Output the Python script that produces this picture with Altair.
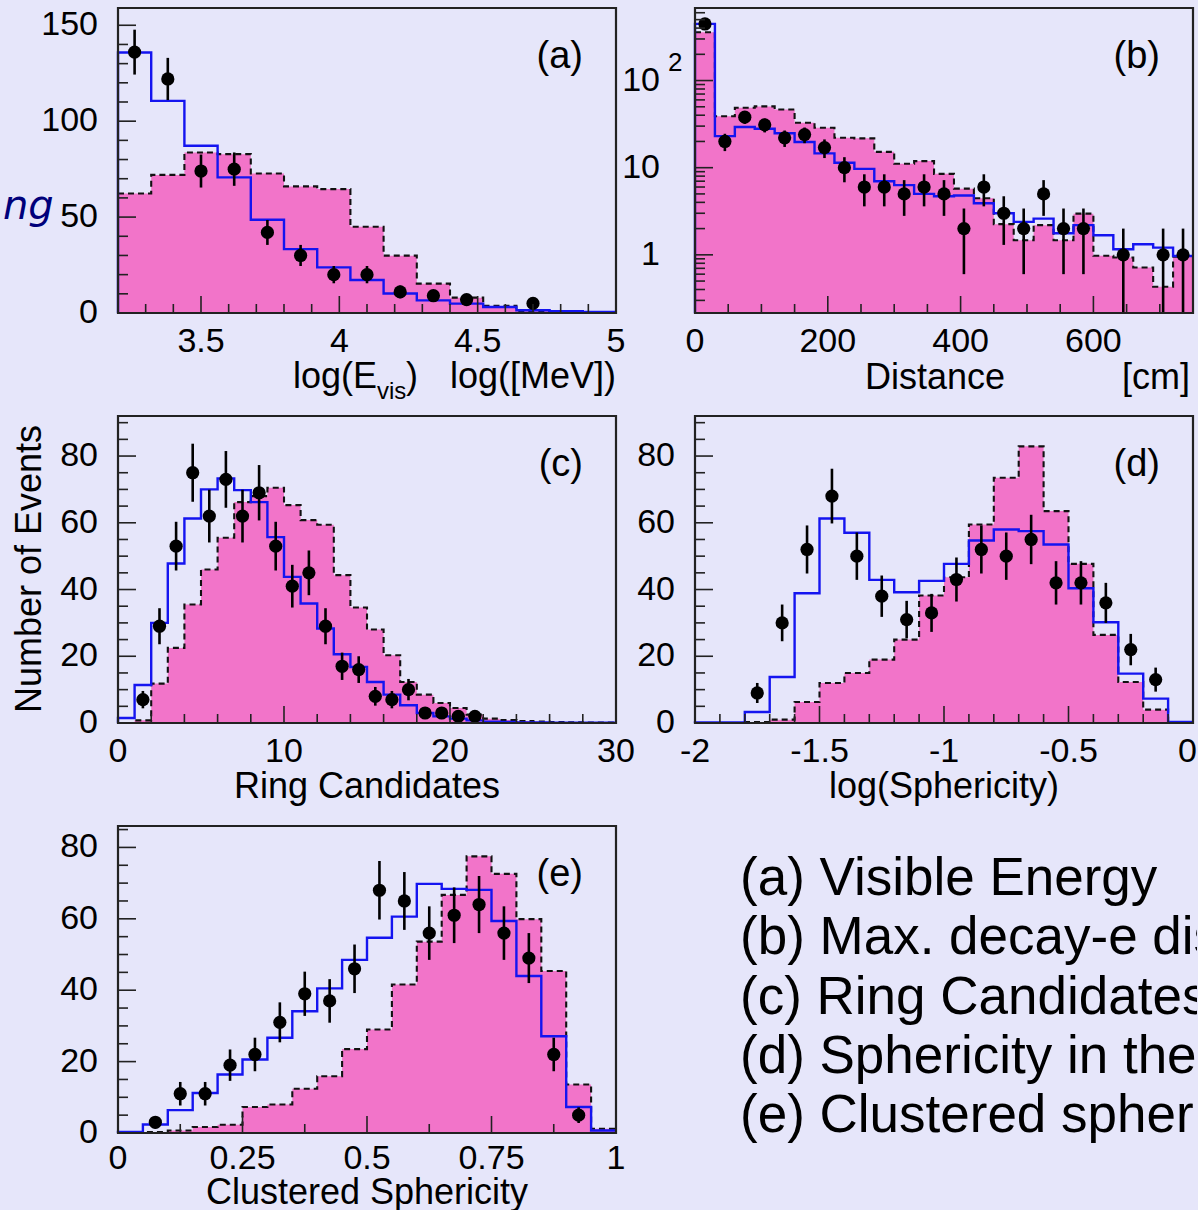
import altair as alt
import pandas as pd

# ---------------- data ----------------
# (a) Visible energy, 15 bins of 0.12 from 3.2
A_LO, A_BW = 3.2, 0.12
A_PINK = [62.3, 72.0, 83.7, 82.8, 72.7, 66.0, 64.6, 45.0, 29.9, 15.3, 8.0, 3.7, 1.0, 0.2, 0.1]
A_BLUE = [135.8, 110.6, 87.2, 70.7, 48.6, 33.3, 23.8, 17.2, 10.2, 6.6, 4.9, 3.1, 1.4, 0.9, 0.5]
A_DBIN = [0, 1, 2, 3, 4, 5, 6, 7, 8, 9, 10, 12]
A_DATA = [136, 122, 74, 75, 42, 30, 20, 20, 11, 9, 7, 5]
A_ERR = [11.7, 11.0, 8.6, 8.7, 6.5, 5.5, 4.5, 4.5, 3.3, 3.0, 2.6, 2.2]
A_XTICKS = [3.5, 4, 4.5, 5]
A_XLABELS = ["3.5", "4", "4.5", "5"]
A_YTICKS = [0, 50, 100, 150]
A_YLABELS = ["0", "50", "100", "150"]

# (b) Max decay-e distance, 25 bins of 30 cm
B_LO, B_BW = 0, 30
B_PINK = [358, 39, 48.7, 50.5, 46.6, 32.8, 28.7, 22.1, 21.7, 15.2, 11.1, 11.9, 8.5,
          5.75, 4.46, 2.25, 1.47, 2.19, 1.47, 2.97, 0.975, 0.93, 0.716, 0.43, 0.95]
B_BLUE = [447, 23, 29.3, 28, 24.8, 19.7, 14.6, 11.4, 9.7, 7.0, 6.3, 5.0, 4.7,
          4.8, 3.9, 3.0, 2.39, 2.6, 1.77, 2.19, 1.68, 1.16, 1.32, 1.21, 0.97]
B_DBIN = [0, 1, 2, 3, 4, 5, 6, 7, 8, 9, 10, 11, 12, 13, 14, 15, 16, 17, 18, 19, 21, 23, 24]
B_DATA = [446, 20, 38, 31, 22, 24, 17, 10, 6, 6, 5, 6, 5, 2, 6, 3, 2, 5, 2, 2, 1, 1, 1]
B_ERR = [21.1, 4.5, 6.2, 5.6, 4.7, 4.9, 4.1, 3.2, 2.4, 2.4, 2.2, 2.4, 2.2, 1.4, 2.4,
         1.7, 1.4, 2.2, 1.4, 1.4, 1.0, 1.0, 1.0]
B_XTICKS = [0, 200, 400, 600]
B_XLABELS = ["0", "200", "400", "600"]
B_YTICKS = [1, 10, 100]
B_YLABELS = ["1", "10", "10"]
B_YSUPER = ["", "", "2"]

# (c) Ring candidates, 30 bins of 1
C_LO, C_BW = 0, 1
C_PINK = [0, 0.8, 11.8, 22.5, 35.5, 46, 55.5, 66.2, 68, 70.5, 65.3, 60.8, 59.4, 44.3, 34.6,
          28, 20.3, 12.3, 8.5, 6.0, 4.5, 2.5, 1.3, 0.9, 0.6, 0.4, 0.3, 0.2, 0.1, 0.1]
C_BLUE = [1.5, 11.4, 30, 47.8, 61.3, 70, 73.3, 69.8, 66.2, 55.7, 43.8, 35.8, 28.3, 20.6, 16.8,
          12.3, 8.5, 5.3, 3.0, 2.0, 1.3, 0.8, 0.4, 0.3, 0.2, 0.2, 0.1, 0.1, 0.1, 0.1]
C_DBIN = list(range(1, 22))
C_DATA = [7, 29, 53, 75, 62, 73, 62, 69, 53, 41, 45, 29, 17, 16, 8, 7, 10, 3, 3, 2, 2]
C_ERR = [2.6, 5.4, 7.3, 8.7, 7.9, 8.5, 7.9, 8.3, 7.3, 6.4, 6.7, 5.4, 4.1, 4.0, 2.8, 2.6,
         3.2, 1.7, 1.7, 1.4, 1.4]
C_XTICKS = [0, 10, 20, 30]
C_XLABELS = ["0", "10", "20", "30"]

# (d) log(Sphericity), 20 bins of 0.1 from -2
D_LO, D_BW = -2, 0.1
D_PINK = [0, 0, 0.3, 1.0, 6.3, 12, 15, 19, 25, 38.2, 43.7, 59.5, 73.5, 82.9, 63.5, 47.7,
          26.4, 12.3, 4.0, 0]
D_BLUE = [0.2, 0.2, 3.3, 13.8, 38.9, 61.3, 57, 42.9, 39.2, 42.6, 47.7, 54.7, 58, 57.5, 53.5,
          40.4, 30.2, 14.8, 7.3, 0.3]
D_DBIN = list(range(2, 19))
D_DATA = [9, 30, 52, 68, 50, 38, 31, 33, 43, 52, 50, 55, 42, 42, 36, 22, 13]
D_ERR = [3.0, 5.5, 7.2, 8.2, 7.1, 6.2, 5.6, 5.7, 6.6, 7.2, 7.1, 7.4, 6.5, 6.5, 6.0, 4.7, 3.6]
D_XTICKS = [-2, -1.5, -1, -0.5, 0]
D_XLABELS = ["-2", "-1.5", "-1", "-0.5", "0"]

# (e) Clustered sphericity, 20 bins of 0.05
E_LO, E_BW = 0, 0.05
E_PINK = [0, 0.3, 0.7, 1.7, 2.3, 7.3, 8, 12.4, 15.9, 23.5, 29, 41.6, 53.6, 66.7, 77.5, 72.6,
          59.9, 45.4, 13.6, 1.2]
E_BLUE = [0.3, 2.4, 6.4, 11.2, 16.4, 20.6, 26.7, 34.1, 40.5, 48.5, 54.7, 60.6, 69.8, 68.4,
          68.1, 59.4, 44, 27.1, 7.3, 0.7]
E_DBIN = list(range(1, 19))
E_DATA = [3, 11, 11, 19, 22, 31, 39, 37, 46, 68, 65, 56, 61, 64, 56, 49, 22, 5]
E_ERR = [1.7, 3.3, 3.3, 4.4, 4.7, 5.6, 6.2, 6.1, 6.8, 8.2, 8.1, 7.5, 7.8, 8.0, 7.5, 7.0, 4.7, 2.2]
E_XTICKS = [0, 0.25, 0.5, 0.75, 1]
E_XLABELS = ["0", "0.25", "0.5", "0.75", "1"]

CNT_YTICKS = [0, 20, 40, 60, 80]
CNT_YLABELS = ["0", "20", "40", "60", "80"]

LEGEND_LINES = ["(a) Visible Energy", "(b) Max. decay-e distance", "(c) Ring Candidates",
                "(d) Sphericity in the CM frame", "(e) Clustered sphericity"]

# ---------------- style ----------------
BG = "#E6E6FA"
PINK = "#F274C9"
BLUE = "#1414F0"
FRAME = "#222222"
FONT = "Liberation Sans"
TICK_FS = 34
TITLE_FS = 36
W = 498


def ann(text, x, y, size=TITLE_FS, align="left", angle=0, style=None, color="black",
        font=FONT, baseline="alphabetic"):
    kw = dict(align=align, baseline=baseline, fontSize=size, font=font, color=color)
    if angle:
        kw["angle"] = angle
    if style:
        kw["fontStyle"] = style
    return alt.Chart(pd.DataFrame({"t": [text]})).mark_text(**kw).encode(
        text="t:N", x=alt.value(x), y=alt.value(y))


def panel(lo, bw, pink, blue, dbin, dval, derr, xdom, ydom, H, xticks, xlabels,
          yticks, ylabels, xmin, ymin, tag, texts, log=False, ylabx=-20, ysuper=None,
          last_right=False, xlaby=39):
    n = len(pink)
    edges = [lo + bw * i for i in range(n + 1)]
    ybot = ydom[0]
    step = pd.DataFrame({"x": edges, "pink": pink + [pink[-1]],
                         "base": [ybot] * (n + 1), "i": list(range(n + 1))})
    bdf = pd.DataFrame({"x": [edges[0]] + edges, "blue": [ybot] + blue + [blue[-1]],
                        "i": list(range(n + 2))})
    pdf = pd.DataFrame({
        "x": [lo + bw * (b + 0.5) for b in dbin],
        "v": dval,
        "lo": [max(v - e, ybot) for v, e in zip(dval, derr)],
        "hi": [v + e for v, e in zip(dval, derr)],
    })
    ysc = alt.Scale(domain=ydom, type="log" if log else "linear", nice=False, zero=False)
    xsc = alt.Scale(domain=xdom, nice=False, zero=False)

    def X(f):
        return alt.X(f, scale=xsc, axis=None)

    def Y(f, **kw):
        return alt.Y(f, scale=ysc, axis=None, **kw)

    area = alt.Chart(step).mark_area(interpolate="step-after", color=PINK, opacity=1).encode(
        x=X("x:Q"), y=Y("pink:Q", stack=None), y2="base:Q")
    dash = alt.Chart(step).mark_line(interpolate="step-after", color="#111111",
                                     strokeDash=[6, 4], strokeWidth=2.1).encode(
        x=X("x:Q"), y=Y("pink:Q"), order=alt.Order("i:Q"))
    bline = alt.Chart(bdf).mark_line(interpolate="step-after", color=BLUE,
                                     strokeWidth=2.4).encode(
        x=X("x:Q"), y=Y("blue:Q"), order=alt.Order("i:Q"))
    err = alt.Chart(pdf).mark_rule(color="black", strokeWidth=2.6, clip=True).encode(
        x=X("x:Q"), y=Y("lo:Q"), y2="hi:Q")
    pts = alt.Chart(pdf).mark_circle(size=175, color="black", opacity=1).encode(
        x=X("x:Q"), y=Y("v:Q"))

    def vt(vals, L):
        return alt.Chart(pd.DataFrame({"v": vals})).mark_rule(color=FRAME, strokeWidth=1.6).encode(
            y=Y("v:Q"), x=alt.value(0), x2=alt.value(L))

    def ht(vals, L):
        return alt.Chart(pd.DataFrame({"v": vals})).mark_rule(color=FRAME, strokeWidth=1.6).encode(
            x=X("v:Q"), y=alt.value(H), y2=alt.value(H - L))

    layers_extra = []
    xt, xl = list(xticks), list(xlabels)
    if last_right:
        layers_extra.append(alt.Chart(pd.DataFrame({"v": xt[-1:], "t": xl[-1:]})).mark_text(
            align="right", baseline="alphabetic", fontSize=TICK_FS, font=FONT, dx=4,
            color="black").encode(x=X("v:Q"), y=alt.value(H + xlaby), text="t:N"))
        xt, xl = xt[:-1], xl[:-1]
    xlab = alt.Chart(pd.DataFrame({"v": xt, "t": xl})).mark_text(
        align="center", baseline="alphabetic", fontSize=TICK_FS, font=FONT, color="black").encode(
        x=X("v:Q"), y=alt.value(H + xlaby), text="t:N")
    ylab = alt.Chart(pd.DataFrame({"v": yticks, "t": ylabels})).mark_text(
        align="right", baseline="middle", fontSize=TICK_FS, font=FONT, color="black").encode(
        y=Y("v:Q"), x=alt.value(ylabx), text="t:N")
    if ysuper:
        layers_extra.append(alt.Chart(pd.DataFrame({"v": yticks, "t": ysuper})).mark_text(
            align="left", baseline="alphabetic", fontSize=26, font=FONT, dy=-10,
            color="black").encode(y=Y("v:Q"), x=alt.value(ylabx + 8), text="t:N"))

    frame = alt.Chart(pd.DataFrame({"a": [0]})).mark_rect(
        fill="transparent", stroke=FRAME, strokeWidth=2.2).encode(
        x=alt.value(0), x2=alt.value(W), y=alt.value(0), y2=alt.value(H))
    label = ann(tag, W - 33, 60, size=38, align="right")
    inner = [t for t in xticks if xdom[0] < t < xdom[1]]
    yinner = [t for t in yticks if ydom[0] < t < ydom[1]]
    layers = [area, dash, bline, err, pts, vt(yinner, 18), vt(ymin, 10), ht(inner, 17),
              ht(xmin, 9), frame, xlab, ylab, label] + layers_extra + texts
    return alt.layer(*layers).properties(width=W, height=H)


# invisible anchor fixing the page's top-left corner relative to panel (a)
anchor = alt.Chart(pd.DataFrame({"a": [0]})).mark_rect(opacity=0).encode(
    x=alt.value(-118), x2=alt.value(-117), y=alt.value(-7.5), y2=alt.value(-6.5))

# ---------------- panels ----------------
pa = panel(A_LO, A_BW, A_PINK, A_BLUE, A_DBIN, A_DATA, A_ERR, [3.2, 5.0], [0, 159], 305,
           A_XTICKS, A_XLABELS, A_YTICKS, A_YLABELS,
           [3.3, 3.4, 3.6, 3.7, 3.8, 3.9, 4.1, 4.2, 4.3, 4.4, 4.6, 4.7, 4.8, 4.9],
           [10, 20, 30, 40, 60, 70, 80, 90, 110, 120, 130, 140],
           "(a)",
           [ann("log(E", 175, 380), ann("vis", 259, 391, size=24), ann(")", 288, 380),
            ann("log([MeV])", W, 380, align="right"),
            ann("ng", -115, 211, size=40, style="italic", color="#00007A", font="DejaVu Sans"),
            anchor])

pb = panel(B_LO, B_BW, B_PINK, B_BLUE, B_DBIN, B_DATA, B_ERR, [0, 750], [0.215, 680], 305,
           B_XTICKS, B_XLABELS, B_YTICKS, B_YLABELS,
           [50, 100, 150, 250, 300, 350, 450, 500, 550, 650, 700],
           [0.3, 0.4, 0.5, 0.6, 0.7, 0.8, 0.9, 2, 3, 4, 5, 6, 7, 8, 9,
            20, 30, 40, 50, 60, 70, 80, 90, 200, 300, 400, 500, 600],
           "(b)",
           [ann("Distance", 240, 381, align="center"), ann("[cm]", 495, 381, align="right")],
           log=True, ylabx=-35, ysuper=B_YSUPER)

pc = panel(C_LO, C_BW, C_PINK, C_BLUE, C_DBIN, C_DATA, C_ERR, [0, 30], [0, 92], 307,
           C_XTICKS, C_XLABELS, CNT_YTICKS, CNT_YLABELS,
           [2, 4, 6, 8, 12, 14, 16, 18, 22, 24, 26, 28],
           [5, 10, 15, 25, 30, 35, 45, 50, 55, 65, 70, 75, 85, 90],
           "(c)",
           [ann("Ring Candidates", W / 2, 382, align="center"),
            ann("Number of Events", -77, 153, align="center", angle=270)])

pd_ = panel(D_LO, D_BW, D_PINK, D_BLUE, D_DBIN, D_DATA, D_ERR, [-2, 0], [0, 92], 307,
            D_XTICKS, D_XLABELS, CNT_YTICKS, CNT_YLABELS,
            [-1.9, -1.8, -1.7, -1.6, -1.4, -1.3, -1.2, -1.1, -0.9, -0.8, -0.7, -0.6,
             -0.4, -0.3, -0.2, -0.1],
            [5, 10, 15, 25, 30, 35, 45, 50, 55, 65, 70, 75, 85, 90],
            "(d)",
            [ann("log(Sphericity)", W / 2, 382, align="center")],
            last_right=True)

pe = panel(E_LO, E_BW, E_PINK, E_BLUE, E_DBIN, E_DATA, E_ERR, [0, 1], [0, 86], 307,
           E_XTICKS, E_XLABELS, CNT_YTICKS, CNT_YLABELS,
           [0.125, 0.375, 0.625, 0.875],
           [5, 10, 15, 25, 30, 35, 45, 50, 55, 65, 70, 75, 85],
           "(e)",
           [ann("Clustered Sphericity", W / 2, 378, align="center")],
           xlaby=36)

legend = alt.Chart(pd.DataFrame({"t": LEGEND_LINES, "k": list(range(len(LEGEND_LINES)))})).mark_text(
    align="left", baseline="alphabetic", fontSize=53, font=FONT, color="black", clip=True).encode(
    x=alt.value(45),
    y=alt.Y("k:Q", scale=alt.Scale(domain=[0, 4], range=[69, 306]), axis=None),
    text="t:N").properties(width=502, height=340)

chart = alt.concat(pa, pb, pc, pd_, pe, legend, columns=2,
                   spacing={"row": 103, "column": 79}, bounds="flush", align="each").properties(
    background=BG, padding={"left": 0, "top": 0, "right": 0, "bottom": 0}
).configure_view(strokeWidth=0)

chart.save("out.html", embed_options={"renderer": "svg", "actions": False})
